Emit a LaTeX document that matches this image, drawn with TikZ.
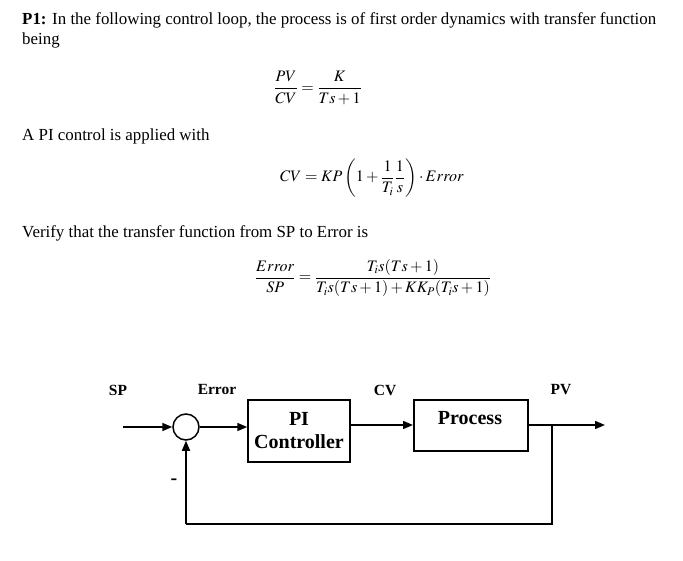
\documentclass[tikz,border=0pt]{standalone}
\usepackage{mathptmx}
\usepackage{amsmath}
\usepackage{fontspec}
\setmainfont{Liberation Serif}
\usetikzlibrary{arrows.meta}
\begin{document}
\begin{tikzpicture}[x=1pt,y=-1pt,
  txt/.style={anchor=west,inner sep=0pt,font=\fontsize{16.9}{19}\selectfont},
  eq/.style={inner sep=0pt,font=\fontsize{16}{19}\selectfont},
  lbl/.style={inner sep=0pt,font=\fontsize{15.5}{18}\selectfont\bfseries},
  blk/.style={draw,line width=1.5pt,inner sep=0pt,font=\fontsize{20}{23}\selectfont\bfseries,align=center},
  conn/.style={line width=1.5pt,-{Triangle[length=10pt,width=8pt]}},
  ln/.style={line width=1.5pt}]
\useasboundingbox (0,0) rectangle (683,561);
\node[txt] (t1) at (22,20) {\textbf{P1:} In the following control loop, the process is of first order dynamics with transfer function};
\node[txt] (t2) at (22,40) {being};
\node[eq] (e1) at (318,88) {$\dfrac{PV}{CV}=\dfrac{K}{Ts+1}$};
\node[txt] (t3) at (22,136) {A PI control is applied with};
\node[eq] (e2) at (372,178) {$CV=KP\left(1+\dfrac{1}{T_i}\dfrac{1}{s}\right)\cdot Error$};
\node[txt] (t4) at (22,233) {Verify that the transfer function from SP to Error is};
\node[eq] (e3) at (373,278) {$\dfrac{Error}{SP}=\dfrac{T_is(Ts+1)}{T_is(Ts+1)+KK_P(T_is+1)}$};

\node[draw,circle,line width=1.5pt,minimum size=26pt,inner sep=0pt] (sum) at (186,427) {};
\node[blk,minimum width=102pt,minimum height=62pt] (pi) at (299,431) {PI\\Controller};
\node[blk,minimum width=114pt,minimum height=51pt,anchor=north west] (proc) at (413,399) {};
\node[inner sep=0pt,font=\fontsize{20}{23}\selectfont\bfseries] (ptxt) at (470,418) {Process};
\coordinate (in) at (123,427);
\coordinate (split) at (552,425);
\coordinate (out) at (605,425);
\coordinate (fb) at (552,524);
\coordinate (fb2) at (186,524);
\draw[conn] (in) -- (sum.west);
\draw[conn] (sum.east) -- (pi.west |- sum.east);
\draw[conn] (pi.east |- 0,425) -- (proc.west |- 0,425);
\draw[ln] (proc.east |- split) -- (split);
\draw[conn] (split) -- (out);
\draw[ln] (split) -- (fb) -- (fb2);
\draw[conn] (fb2) -- (sum.south);
\node[lbl] (sp) at (118,390) {SP};
\node[lbl] (err) at (217,390) {Error};
\node[lbl] (cv) at (385,390) {CV};
\node[lbl] (pv) at (561,390) {PV};
\node[lbl,font=\fontsize{20}{23}\selectfont\bfseries] (minus) at (174,482) {-};
\end{tikzpicture}
\end{document}
